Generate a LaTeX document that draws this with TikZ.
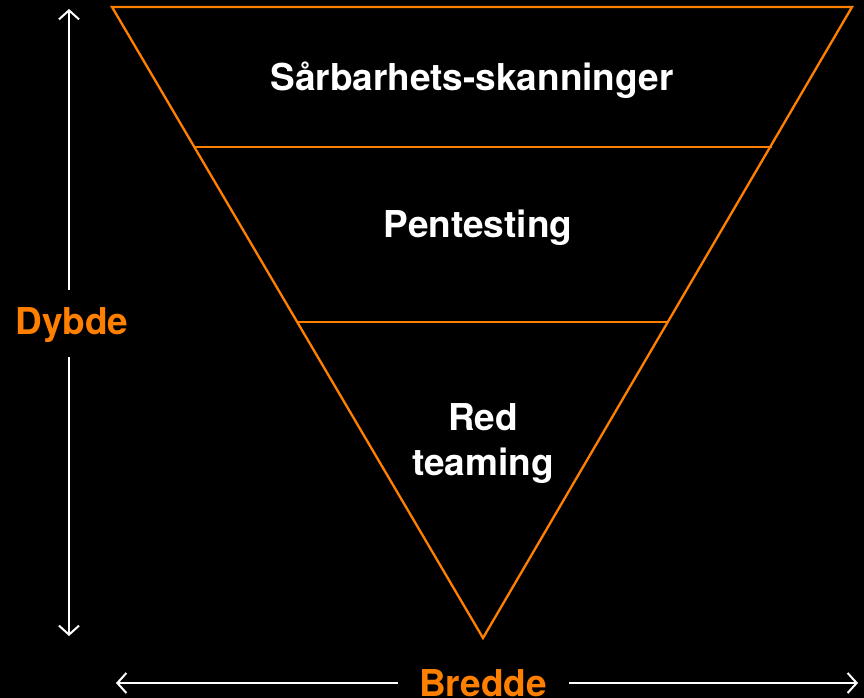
\documentclass[tikz,border=0pt]{standalone}
\usepackage{fontspec}
\setmainfont{TeX Gyre Heros}
\usetikzlibrary{arrows.meta}
\definecolor{org}{RGB}{255,128,0}
\tikzset{
  edge/.style={draw=org, line width=2.3pt},
  arr/.style={draw=white, line width=2pt, -{Straight Barb[length=9pt,width=20pt,line width=2pt]}},
  lbl/.style={text=white, font=\bfseries\fontsize{37}{45}\selectfont, align=center},
  axis/.style={text=org, font=\bfseries\fontsize{37}{45}\selectfont}
}
\begin{document}
\begin{tikzpicture}[x=1pt,y=-1pt]
\fill[black] (0,0) rectangle (864,698);
\useasboundingbox (0,0) rectangle (864,698);
\coordinate (tl) at (112,7);
\coordinate (tr) at (852,7);
\coordinate (ap) at (483,638);
\coordinate (l1) at (194,147);
\coordinate (r1) at (772,147);
\coordinate (l2) at (298,322);
\coordinate (r2) at (668,322);
\draw[edge, line join=miter] (tl) -- (tr) -- (ap) -- cycle;
\draw[edge] (l1) -- (r1);
\draw[edge] (l2) -- (r2);
\node[lbl] (s1) at (472,80) {Sårbarhets-skanninger};
\node[lbl] (s2) at (478,228) {Pentesting};
\node[lbl] (s3) at (483,444) {Red\\teaming};
\node[axis] (dy) at (72,325) {Dybde};
\node[axis] (br) at (483,683) {Bredde};
\coordinate (vt) at (69,9);
\coordinate (vb) at (69,636);
\coordinate (hl) at (116,683);
\coordinate (hr) at (858,683);
\coordinate (vts) at (69,290);
\coordinate (vbs) at (69,357);
\coordinate (hls) at (398,683);
\coordinate (hrs) at (569,683);
\draw[arr] (vts) -- (vt);
\draw[arr] (vbs) -- (vb);
\draw[arr] (hls) -- (hl);
\draw[arr] (hrs) -- (hr);
\end{tikzpicture}
\end{document}
